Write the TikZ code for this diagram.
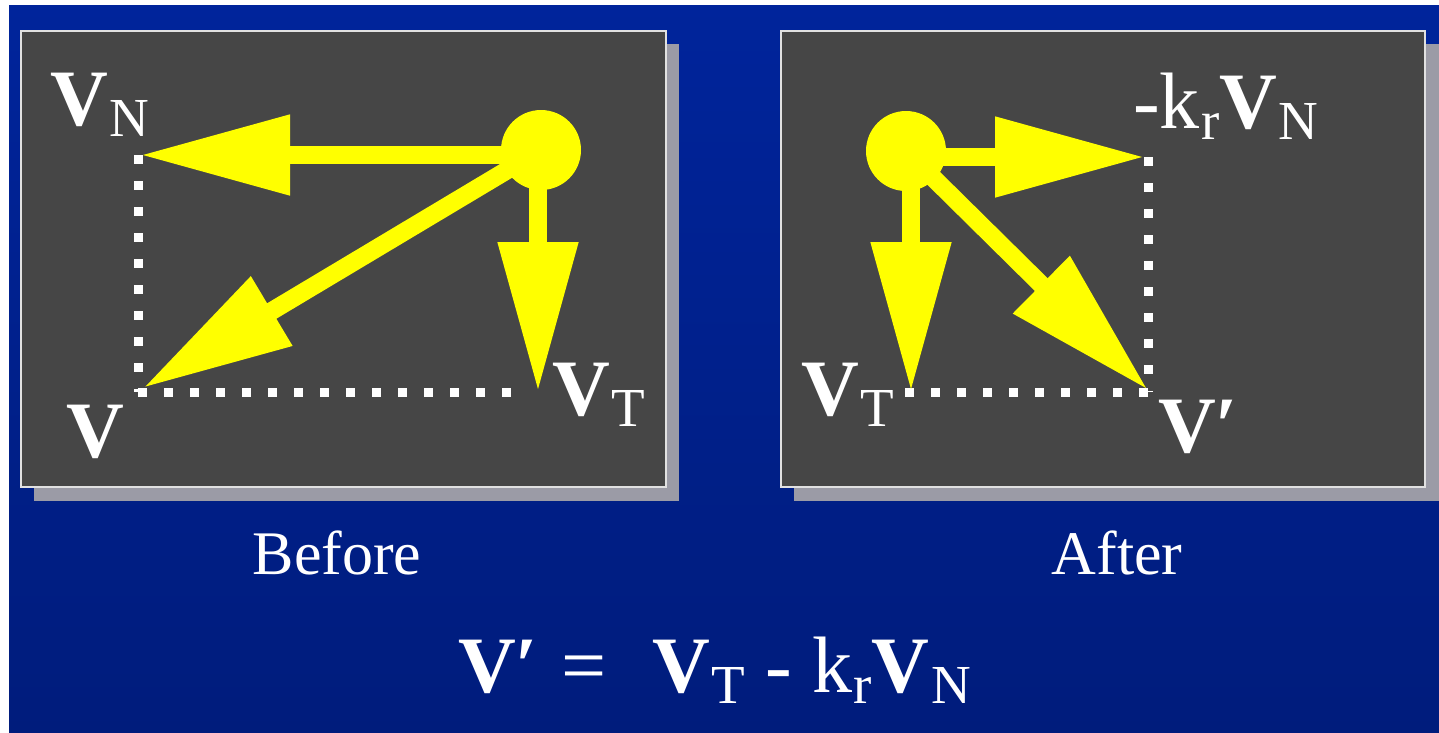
\documentclass[tikz,border=0pt]{standalone}
\usepackage{fontspec}
\setmainfont{Liberation Serif}
\usetikzlibrary{arrows.meta}
\definecolor{bgtop}{RGB}{0,36,155}
\definecolor{bgbot}{RGB}{0,28,124}
\definecolor{panelgray}{RGB}{70,70,70}
\definecolor{shadowgray}{RGB}{155,155,166}
\definecolor{panelrim}{RGB}{225,225,225}
\definecolor{vyellow}{RGB}{255,255,0}
\newcommand{\bigfont}{\fontsize{80}{82}\selectfont}
\newcommand{\subfont}{\fontsize{55}{57}\selectfont}
\newcommand{\sbs}[1]{\hspace{1.5pt}\raisebox{-11pt}{\subfont #1}}
\begin{document}
\begin{tikzpicture}[x=1pt,y=-1pt,
  vecarrow/.style={draw=vyellow, line width=18pt, -{Triangle[length=150pt,width=76pt]}},
  dots/.style={draw=white, line width=9pt, dash pattern=on 9pt off 17pt},
  ball/.style={circle, fill=vyellow, minimum size=80pt, inner sep=0pt},
  lbl/.style={text=white, inner sep=0pt, anchor=base west, font=\bigfont},
  captext/.style={text=white, inner sep=0pt, anchor=base, font=\fontsize{62}{64}\selectfont},
  shadowbox/.style={fill=shadowgray},
  panelbox/.style={fill=panelgray, draw=panelrim, line width=2pt}
]
\useasboundingbox (0,0) rectangle (1439,732);
\fill[white] (0,0) rectangle (1439,732);
\shade[top color=bgtop, bottom color=bgbot] (9,5) rectangle (1439,732);

% panels
\fill[shadowbox] (34,44) rectangle (679,501);
\path[panelbox] (21,31) rectangle (666,487);
\fill[shadowbox] (794,44) rectangle (1439,501);
\path[panelbox] (781,31) rectangle (1425,487);

% ---------- Before ----------
\coordinate (lTN) at (140,155);
\coordinate (lTV) at (143,388);
\coordinate (lTT) at (538,392);
\coordinate (lCorner) at (138,392);
\coordinate (lEndH) at (520,392);
\coordinate (lTopV) at (138,155);

\draw[dots] (lTopV) -- (lCorner);
\draw[dots] (lCorner) -- (lEndH);

\node[ball] (lBall) at (541,150) {};
\draw[vecarrow] (lBall.center |- lTN) -- (lTN);
\draw[vecarrow] (lBall.center) -- (lTV);
\draw[vecarrow] (lTT |- lBall.center) -- (lTT);

\node[lbl] (lVN) at (50,125) {\textbf{V}\sbs{N}};
\node[lbl] (lV) at (66,457) {\textbf{V}};
\node[lbl] (lVT) at (552,415) {\textbf{V}\sbs{T}};

% ---------- After ----------
\coordinate (rTN) at (1145,157);
\coordinate (rTV) at (1148,390);
\coordinate (rTT) at (911,392);
\coordinate (rCorner) at (1148,392);
\coordinate (rEndH) at (905,392);
\coordinate (rTopV) at (1148,157);

\draw[dots] (rTopV) -- (rCorner);
\draw[dots] (rCorner) -- (rEndH);

\node[ball] (rBall) at (906,151) {};
\draw[vecarrow] (rBall.center |- rTN) -- (rTN);
\draw[vecarrow] (rBall.center) -- (rTV);
\draw[vecarrow] (rTT |- rBall.center) -- (rTT);

\node[lbl] (rkVN) at (1133,128) {-k\sbs{r}\textbf{V}\sbs{N}};
\node[lbl] (rVT) at (801,415) {\textbf{V}\sbs{T}};
\node[lbl] (rVp) at (1158,452) {\textbf{V′}};

% captions
\node[captext] (before) at (337,574) {Before};
\node[captext] (after) at (1117,574) {After};

% formula
\node[lbl] (formula) at (458,692) {\textbf{V′}\hspace{3pt} =\hspace{6pt}~~\textbf{V}\sbs{T} - k\sbs{r}\textbf{V}\sbs{N}};
\end{tikzpicture}
\end{document}
